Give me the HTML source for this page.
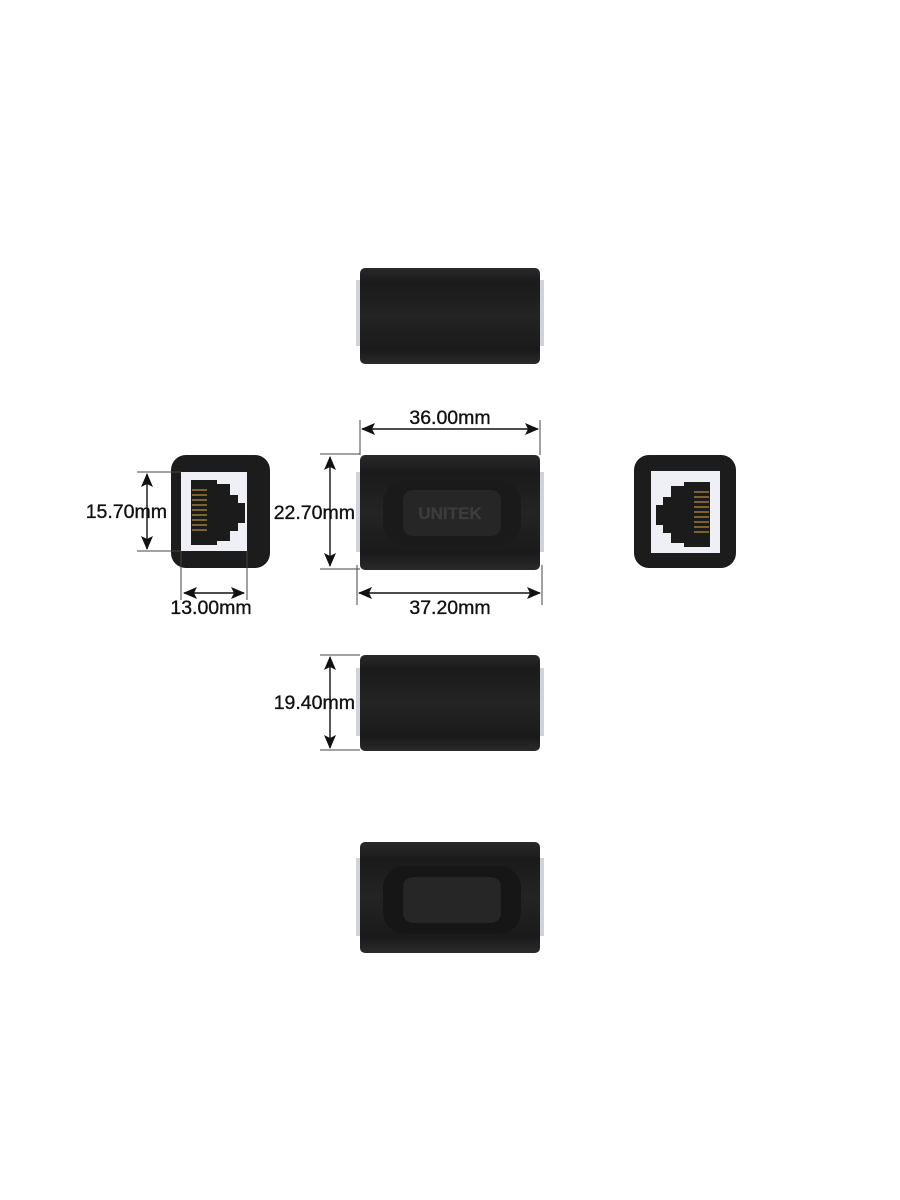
<!DOCTYPE html>
<html><head><meta charset="utf-8"><style>
html,body{margin:0;padding:0;background:#fff;}
svg{display:block}
text{font-family:"Liberation Sans",sans-serif;font-size:19.5px;fill:#111;stroke:#111;stroke-width:0.35}
</style></head><body>
<svg width="900" height="1200" viewBox="0 0 900 1200" xmlns="http://www.w3.org/2000/svg">
<defs>
<marker id="a" viewBox="0 0 14 12" refX="13" refY="6" markerWidth="14" markerHeight="12" markerUnits="userSpaceOnUse" orient="auto-start-reverse"><path d="M0,0 L14,6 L0,12 L3,6 Z" fill="#111"/></marker>
<linearGradient id="g" x1="0" y1="0" x2="0" y2="1"><stop offset="0" stop-color="#2a2a2a"/><stop offset="0.15" stop-color="#1a1a1a"/><stop offset="0.5" stop-color="#242424"/><stop offset="0.85" stop-color="#1a1a1a"/><stop offset="1" stop-color="#2a2a2a"/></linearGradient>
</defs>
<rect x="356" y="280" width="188" height="66" fill="#d0d3da"/>
<rect x="360" y="268" width="180" height="96" rx="5" fill="url(#g)"/>
<rect x="356" y="472" width="188" height="80" fill="#d0d3da"/>
<rect x="360" y="455" width="180" height="115" rx="5" fill="url(#g)"/>
<rect x="383" y="480" width="138" height="66" rx="22" fill="#1a1a1a"/>
<rect x="403" y="490" width="98" height="46" rx="10" fill="#262626"/>
<text x="450" y="519" text-anchor="middle" style="fill:#3c3c3c;stroke:#3c3c3c;font-size:17px;font-weight:bold">UNITEK</text>
<rect x="356" y="668" width="188" height="68" fill="#d0d3da"/>
<rect x="360" y="655" width="180" height="96" rx="5" fill="url(#g)"/>
<rect x="356" y="858" width="188" height="78" fill="#d0d3da"/>
<rect x="360" y="842" width="180" height="111" rx="5" fill="url(#g)"/>
<rect x="383" y="866" width="138" height="68" rx="22" fill="#161616"/>
<rect x="403" y="877" width="98" height="46" rx="10" fill="#262626"/>
<rect x="171" y="455" width="99" height="113" rx="15" fill="#1c1c1c"/>
<rect x="181" y="472" width="66" height="79" fill="#eef0f6"/>
<path d="M191,480 H217 V484 H230 V495 H238 V503 H245 V523 H238 V531 H230 V541 H217 V545 H191 Z" fill="#1b1b1b"/>
<g stroke="#b08a3a" stroke-width="1.3"><line x1="192" y1="490" x2="207" y2="490"/><line x1="192" y1="495" x2="207" y2="495"/><line x1="192" y1="500" x2="207" y2="500"/><line x1="192" y1="505" x2="207" y2="505"/><line x1="192" y1="510" x2="207" y2="510"/><line x1="192" y1="515" x2="207" y2="515"/><line x1="192" y1="520" x2="207" y2="520"/><line x1="192" y1="525" x2="207" y2="525"/><line x1="192" y1="530" x2="207" y2="530"/></g>
<rect x="634" y="455" width="102" height="113" rx="15" fill="#1c1c1c"/>
<rect x="651" y="471" width="69" height="82" fill="#eef0f6"/>
<path d="M710,482 H684 V486 H671 V497 H663 V505 H656 V525 H663 V533 H671 V543 H684 V547 H710 Z" fill="#1b1b1b"/>
<g stroke="#b08a3a" stroke-width="1.3"><line x1="694" y1="492" x2="709" y2="492"/><line x1="694" y1="497" x2="709" y2="497"/><line x1="694" y1="502" x2="709" y2="502"/><line x1="694" y1="507" x2="709" y2="507"/><line x1="694" y1="512" x2="709" y2="512"/><line x1="694" y1="517" x2="709" y2="517"/><line x1="694" y1="522" x2="709" y2="522"/><line x1="694" y1="527" x2="709" y2="527"/><line x1="694" y1="532" x2="709" y2="532"/></g>
<g stroke="#444" stroke-width="1" fill="none">
<line x1="360" y1="420" x2="360" y2="455"/><line x1="540" y1="420" x2="540" y2="455"/>
<line x1="320" y1="454" x2="360" y2="454"/><line x1="320" y1="569" x2="360" y2="569"/>
<line x1="357" y1="565" x2="357" y2="605"/><line x1="542" y1="565" x2="542" y2="605"/>
<line x1="137" y1="472" x2="181" y2="472"/><line x1="137" y1="551" x2="181" y2="551"/>
<line x1="181" y1="551" x2="181" y2="600"/><line x1="247" y1="551" x2="247" y2="600"/>
<line x1="320" y1="655" x2="360" y2="655"/><line x1="320" y1="750" x2="360" y2="750"/>
</g>
<g stroke="#111" stroke-width="1.4" marker-start="url(#a)" marker-end="url(#a)">
<line x1="362" y1="429" x2="538" y2="429"/>
<line x1="330" y1="457" x2="330" y2="566"/>
<line x1="359" y1="593" x2="540" y2="593"/>
<line x1="147" y1="474" x2="147" y2="549"/>
<line x1="184" y1="593" x2="244" y2="593"/>
<line x1="330" y1="657" x2="330" y2="748"/>
</g>
<text x="450" y="424" text-anchor="middle">36.00mm</text>
<text x="355" y="519" text-anchor="end">22.70mm</text>
<text x="450" y="614" text-anchor="middle">37.20mm</text>
<text x="167" y="518" text-anchor="end">15.70mm</text>
<text x="211" y="614" text-anchor="middle">13.00mm</text>
<text x="355" y="709" text-anchor="end">19.40mm</text>
</svg>
</body></html>
